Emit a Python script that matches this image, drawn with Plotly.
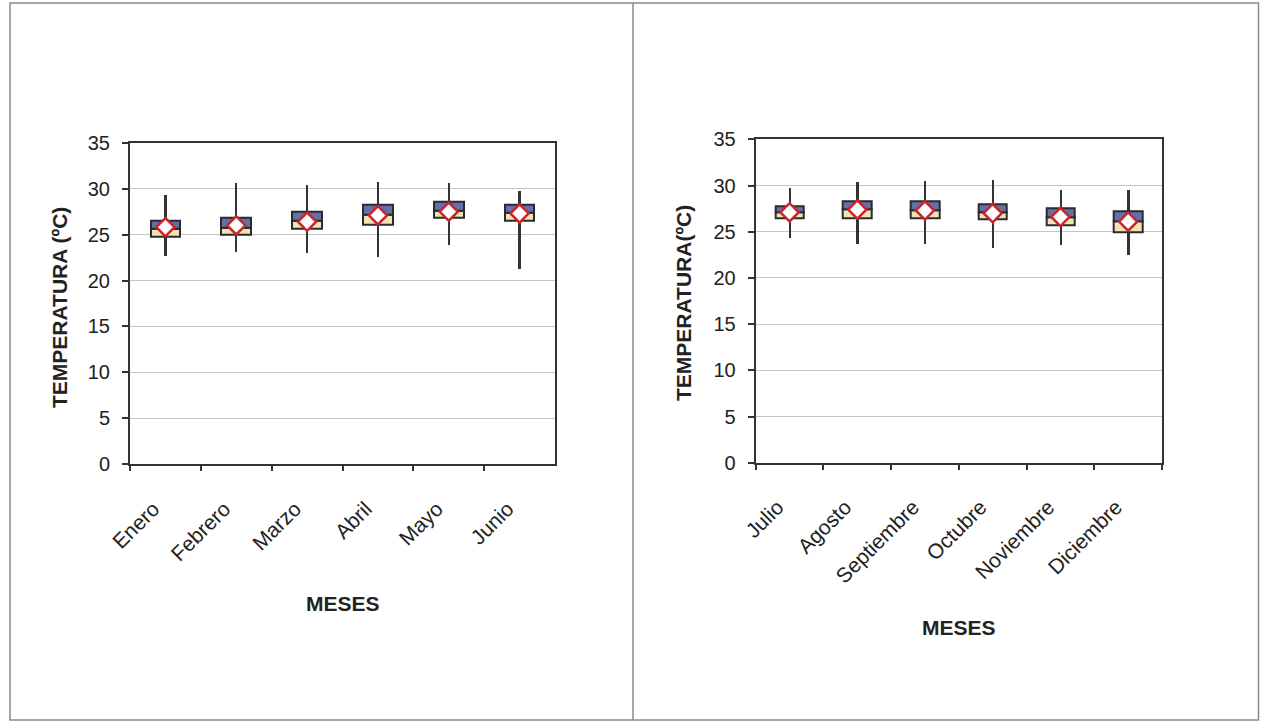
import plotly.graph_objects as go

W, H = 1262, 723

# ---- data ----
meses1 = ["Enero", "Febrero", "Marzo", "Abril", "Mayo", "Junio"]
min1 = [22.7, 23.1, 23.0, 22.6, 23.9, 21.3]
q1_1 = [24.8, 25.0, 25.6, 26.1, 26.8, 26.5]
med1 = [25.6, 25.8, 26.5, 27.2, 27.6, 27.4]
q3_1 = [26.5, 26.8, 27.5, 28.3, 28.6, 28.3]
max1 = [29.3, 30.7, 30.4, 30.8, 30.6, 29.8]
mean1 = [25.8, 26.0, 26.4, 27.1, 27.5, 27.3]

meses2 = ["Julio", "Agosto", "Septiembre", "Octubre", "Noviembre", "Diciembre"]
min2 = [24.3, 23.6, 23.6, 23.2, 23.5, 22.4]
q1_2 = [26.4, 26.5, 26.5, 26.3, 25.7, 24.9]
med2 = [27.1, 27.4, 27.3, 27.1, 26.6, 26.1]
q3_2 = [27.8, 28.3, 28.3, 28.0, 27.5, 27.2]
max2 = [29.7, 30.4, 30.5, 30.6, 29.5, 29.5]
mean2 = [27.1, 27.4, 27.3, 27.0, 26.6, 26.1]

y_ticks = [0, 5, 10, 15, 20, 25, 30, 35]

# ---- styles ----
FONT = "Liberation Sans, Arial, sans-serif"
TXT = "#222222"
AX = "#333333"
GRID = "#c9c4c4"
BLUE = "#6270ad"
BEIGE = "#f1e3b6"
OUT = "#2b2b2b"
RED = "#c8262c"

fig = go.Figure()


def add_panel(cats, mn, q1, md, q3, mx, mean, xa, ya):
    # whiskers
    fig.add_trace(go.Bar(x=cats, y=[b - a for a, b in zip(mn, mx)], base=mn,
                         width=0.035, marker=dict(color=AX, line=dict(width=0)),
                         xaxis=xa, yaxis=ya, showlegend=False, hoverinfo="skip"))
    # lower box (Q1 -> median)
    fig.add_trace(go.Bar(x=cats, y=[b - a for a, b in zip(q1, md)], base=q1,
                         width=0.42, marker=dict(color=BEIGE, line=dict(color=OUT, width=2)),
                         xaxis=xa, yaxis=ya, showlegend=False))
    # upper box (median -> Q3)
    fig.add_trace(go.Bar(x=cats, y=[b - a for a, b in zip(md, q3)], base=md,
                         width=0.42, marker=dict(color=BLUE, line=dict(color=OUT, width=2)),
                         xaxis=xa, yaxis=ya, showlegend=False))
    # mean diamonds
    fig.add_trace(go.Scatter(x=cats, y=mean, mode="markers",
                             marker=dict(symbol="diamond", size=14, color="white",
                                         line=dict(color=RED, width=2.5)),
                             xaxis=xa, yaxis=ya, showlegend=False))


add_panel(meses1, min1, q1_1, med1, q3_1, max1, mean1, "x", "y")
add_panel(meses2, min2, q1_2, med2, q3_2, max2, mean2, "x2", "y2")

xcommon = dict(type="category", showgrid=False, showline=True, linecolor=AX, linewidth=2,
               mirror=True, ticks="outside", ticklen=5, tickwidth=1.5, tickcolor=AX,
               tickson="boundaries", tickangle=-45, ticklabelstandoff=22,
               ticklabelshift=-12,
               tickfont=dict(family=FONT, size=21, color=TXT), zeroline=False,
               fixedrange=True, automargin=False)
ycommon = dict(range=[0, 35], tickvals=y_ticks, showgrid=True, gridcolor=GRID, gridwidth=1,
               showline=True, linecolor=AX, linewidth=2, mirror=True, ticks="outside",
               ticklen=6, tickwidth=1.5, tickcolor=AX, zeroline=False,
               tickfont=dict(family=FONT, size=20, color=TXT), ticklabelstandoff=8,
               automargin=False)

fig.update_layout(
    width=W, height=H, autosize=False,
    margin=dict(l=0, r=0, t=0, b=0, pad=0, autoexpand=False),
    paper_bgcolor="white", plot_bgcolor="white",
    barmode="overlay", bargap=0,
    xaxis=dict(domain=[130 / W, 555 / W], anchor="y", **xcommon),
    yaxis=dict(domain=[1 - 464.3 / H, 1 - 142.7 / H], anchor="x", **ycommon),
    xaxis2=dict(domain=[755.7 / W, 1162 / W], anchor="y2", **xcommon),
    yaxis2=dict(domain=[1 - 462.7 / H, 1 - 139.3 / H], anchor="x2", **ycommon),
)

# outer frames
fig.add_shape(type="rect", xref="paper", yref="paper",
              x0=10 / W, x1=1258.5 / W, y0=1 - 720 / H, y1=1 - 3 / H,
              line=dict(color="#8a8a8a", width=1.5), fillcolor="rgba(0,0,0,0)", layer="below")
fig.add_shape(type="line", xref="paper", yref="paper",
              x0=633 / W, x1=633 / W, y0=1 - 720 / H, y1=1 - 3 / H,
              line=dict(color="#8a8a8a", width=1.5), layer="below")

titlefont = dict(family=FONT, size=21, color=TXT)
anns = [
    dict(text="<b>TEMPERATURA (ºC)</b>", x=59 / W, y=1 - 307 / H, textangle=-90),
    dict(text="<b>TEMPERATURA(ºC)</b>", x=683 / W, y=1 - 303 / H, textangle=-90),
    dict(text="<b>MESES</b>", x=343 / W, y=1 - 603 / H),
    dict(text="<b>MESES</b>", x=959 / W, y=1 - 627 / H),
]
for a in anns:
    fig.add_annotation(xref="paper", yref="paper", showarrow=False,
                       xanchor="center", yanchor="middle", font=titlefont, **a)

page_js = (
    "document.documentElement.style.margin='0';"
    "document.documentElement.style.overflow='hidden';"
    "document.body.style.margin='0';"
    "document.body.style.overflow='hidden';"
)
fig.write_html("out.html", config={"displayModeBar": False}, post_script=page_js)
